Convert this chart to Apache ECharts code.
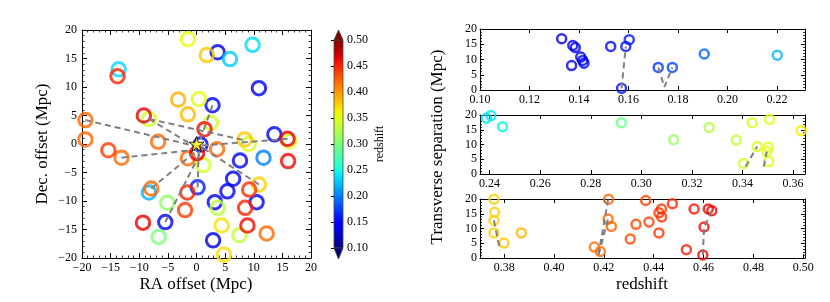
<!DOCTYPE html>
<html><head><meta charset="utf-8">
<script src="https://cdn.jsdelivr.net/npm/echarts@6/dist/echarts.min.js"></script>
<style>html,body{margin:0;padding:0;background:#fff}#c{width:830px;height:302px}</style>
</head><body><div id="c"></div>
<script>
// ---------------- data ----------------
// left panel: galaxy offsets (Mpc) and redshifts
const skyRA  = [-1.5,-13.6,-13.8,3.7,1.8,5.85,9.8,10.9,-3.2,0.4,2.8,-1.5,-9.2,-8.3,2.5,1.4,-19.4,-19.4,-6.7,13.6,15.9,16.2,8.4,9.1,0.7,3.6,-15.4,-13.1,-1.5,0.1,1.2,7.6,11.7,16.0,6.4,0.2,-8.3,-7.9,10.9,9.2,5.4,-1.6,3.2,3.7,10.5,8.5,-5.1,-2.0,-9.35,-5.45,4.4,8.9,7.5,12.25,2.9,4.8,-6.6];
const skyDec = [18.4,13.1,11.9,16.1,15.6,14.9,17.4,9.8,7.8,7.9,6.8,5.2,5.0,4.4,3.7,2.6,4.2,0.8,0.4,1.7,0.9,0.5,0.8,0.0,-0.1,-0.9,-1.1,-2.4,-2.5,-1.6,-3.7,-2.9,-2.4,-3.0,-6.1,-7.6,-8.5,-7.8,-7.1,-8.0,-8.3,-8.5,-10.2,-11.2,-10.2,-11.2,-10.3,-11.6,-13.8,-13.7,-14.3,-14.3,-16.0,-15.7,-16.9,-19.4,-16.3];
const skyZ   = [0.355,0.235,0.45,0.14,0.38,0.23,0.235,0.14,0.39,0.35,0.15,0.385,0.465,0.34,0.345,0.46,0.42,0.42,0.42,0.15,0.465,0.34,0.38,0.345,0.15,0.42,0.44,0.42,0.42,0.465,0.34,0.14,0.2,0.46,0.14,0.16,0.22,0.42,0.375,0.445,0.14,0.45,0.14,0.33,0.14,0.45,0.31,0.44,0.465,0.14,0.37,0.46,0.335,0.42,0.13,0.37,0.30];
const targetRA = [0];
const targetDec = [0];
// dashed links in the sky panel (polylines of [RA, Dec])
const skyLinks = [
  [[-19.4,4.2],[0,-0.4]],
  [[-8.3,4.4],[0.3,-0.8]],
  [[-8.3,4.4],[8.6,0.6]],
  [[-13.1,-2.4],[0,-1.0]],
  [[-7.9,-7.8],[0,-1.2]],
  [[-5.45,-13.7],[1.2,-0.5]],
  [[0.2,-7.6],[0.4,-0.5]],
  [[10.9,-7.1],[0.5,-0.3]],
  [[15.9,0.9],[0.5,-0.3]],
  [[2.8,6.8],[0.5,0.3]]
];
// right panels: redshift vs transverse separation (Mpc)
const p1Z   = [0.133,0.1375,0.1385,0.137,0.1407,0.1415,0.142,0.1528,0.1572,0.1589,0.1603,0.172,0.1777,0.1906,0.2201];
const p1Sep = [16.8,14.6,13.9,8.0,10.8,9.7,8.8,14.3,0.55,14.3,16.5,7.4,7.4,11.8,11.4];
const p2Z   = [0.2387,0.2405,0.2451,0.2921,0.3128,0.3268,0.3375,0.3438,0.3507,0.3458,0.3502,0.3496,0.3404,0.3503,0.3632];
const p2Sep = [18.9,19.8,16.0,17.4,11.6,15.8,11.5,17.4,18.5,9.3,9.1,7.6,3.6,4.2,14.7];
const p3Z   = [0.3759,0.3762,0.3759,0.3759,0.3799,0.3869,0.4162,0.4186,0.4219,0.4217,0.4230,0.4306,0.4329,0.4368,0.4381,0.4421,0.4421,0.4431,0.4432,0.4475,0.4531,0.4562,0.4602,0.4597,0.4619,0.4633];
const p3Sep = [19.9,15.5,12.7,8.5,5.1,8.5,3.7,2.2,19.9,13.2,10.7,6.4,11.4,19.5,12.2,8.5,15.3,16.6,13.9,18.4,2.8,16.6,10.5,1.0,16.6,16.0];
const p1Links = [[[0.1572,0.55],[0.1589,14.3]], [[0.172,7.4],[0.1745,1.0],[0.1777,7.4]]];
const p2Links = [[[0.3412,2.5],[0.3458,9.3]], [[0.3484,2.5],[0.3496,7.6]]];
const p3Links = [[[0.3759,12.7],[0.3783,2.6]], [[0.4217,19.8],[0.4177,0.5],[0.4217,13.2]], [[0.4597,1.0],[0.4602,10.5]], [[0.4633,16.0],[0.4602,10.5]]];
// axis ticks
const skyTicks = [-20,-15,-10,-5,0,5,10,15,20];
const sepTicks = [0,5,10,15,20];
const cbTicks  = [0.10,0.15,0.20,0.25,0.30,0.35,0.40,0.45,0.50];
const p1Ticks  = [0.10,0.12,0.14,0.16,0.18,0.20,0.22];
const p2Ticks  = [0.24,0.26,0.28,0.30,0.32,0.34,0.36];
const p3Ticks  = [0.38,0.40,0.42,0.44,0.46,0.48,0.50];
const panelRanges = [[0.10,0.2313],[0.2362,0.3647],[0.3703,0.5007]];

// ---------------- helpers ----------------
const FONT = 'Liberation Serif';
const R=[[0,0],[0.35,0],[0.66,1],[0.89,1],[1,0.5]];
const G=[[0,0],[0.125,0],[0.375,1],[0.64,1],[0.91,0],[1,0]];
const B=[[0,0.5],[0.11,1],[0.34,1],[0.65,0],[1,0]];
function interp(p,t){for(let i=0;i<p.length-1;i++){if(t<=p[i+1][0]){return p[i][1]+(p[i+1][1]-p[i][1])*(t-p[i][0])/(p[i+1][0]-p[i][0]);}}return p[p.length-1][1];}
const zMin = cbTicks[0], zMax = cbTicks[cbTicks.length-1];
function jetT(t){t=Math.max(0,Math.min(1,t));return 'rgb('+Math.round(255*interp(R,t))+','+Math.round(255*interp(G,t))+','+Math.round(255*interp(B,t))+')';}
function jet(z){return jetT((z-zMin)/(zMax-zMin));}
const minus = v => String(v).replace('-', '\u2212');
function onTick(ticks){return v => ticks.some(t=>Math.abs(t-v)<1e-6) ? v.toFixed(2) : '';}

function axis(type, gridIndex, position, min, max, o) {
  const a = {
    type:'value', gridIndex, position, min, max,
    axisLine:{show:true,onZero:false,lineStyle:{color:'#000',width:1}},
    axisTick:{show:true,inside:true,length:o.tickLen||5,lineStyle:{color:'#000',width:1}},
    minorTick:{show:!!o.minor,splitNumber:o.minor||5,length:o.minorLen||2.5,lineStyle:{color:'#000',width:0.8}},
    splitLine:{show:false},
    axisLabel:{show:!!o.labels,color:'#000',fontFamily:FONT,fontSize:12,margin:o.margin||5,formatter:o.formatter},
    animation:false
  };
  if (o.interval) a.interval = o.interval;
  if (o.splitNumber) a.splitNumber = o.splitNumber;
  return a;
}

// ---------------- grids & axes ----------------
const grids = [
  {left:82, top:30, width:229, height:228},
  {left:334, top:40, width:9, height:208},
  {left:480, top:29, width:325, height:61},
  {left:480, top:115, width:325, height:59},
  {left:480, top:199, width:325, height:59}
];
const sMin = skyTicks[0], sMax = skyTicks[skyTicks.length-1], sInt = skyTicks[1]-skyTicks[0];
const xAxes = [
  axis('value',0,'bottom',sMin,sMax,{interval:sInt,minor:5,labels:true,formatter:minus,margin:4}),
  axis('value',0,'top',sMin,sMax,{interval:sInt,minor:5}),
  {type:'value',gridIndex:1,min:0,max:1,show:false}
];
const yAxes = [
  axis('value',0,'left',sMin,sMax,{interval:sInt,minor:5,labels:true,formatter:minus,margin:5}),
  axis('value',0,'right',sMin,sMax,{interval:sInt,minor:5}),
  Object.assign(axis('value',1,'right',zMin,zMax,{interval:cbTicks[1]-cbTicks[0],labels:true,tickLen:3,margin:4,formatter:v=>v.toFixed(2)}),{axisLine:{show:false}})
];
const pTicks = [p1Ticks,p2Ticks,p3Ticks];
const sepMin = sepTicks[0], sepMax = sepTicks[sepTicks.length-1], sepInt = sepTicks[1]-sepTicks[0];
for (let i=0;i<3;i++){
  const g = 2+i, r = panelRanges[i];
  xAxes.push(axis('value',g,'bottom',r[0],r[1],{splitNumber:6,labels:true,margin:4,formatter:onTick(pTicks[i]),tickLen:4}));
  xAxes.push(axis('value',g,'top',r[0],r[1],{splitNumber:6,tickLen:4}));
  yAxes.push(axis('value',g,'left',sepMin,sepMax,{interval:sepInt,minor:5,labels:true,margin:3,tickLen:4,minorLen:2}));
  yAxes.push(axis('value',g,'right',sepMin,sepMax,{interval:sepInt,minor:5,tickLen:4,minorLen:2}));
}

// ---------------- series ----------------
const series = [];
const order = skyZ.map((z,i)=>i).sort((a,b)=>skyZ[a]-skyZ[b]);
series.push({
  type:'scatter', xAxisIndex:0, yAxisIndex:0, symbol:'circle', symbolSize:13.5, z:2,
  itemStyle:{color:'rgba(0,0,0,0)', borderWidth:3},
  data: order.map(i=>({value:[skyRA[i],skyDec[i],skyZ[i]], itemStyle:{borderColor:jet(skyZ[i])}})),
  animation:false, silent:true
});
const dash = {color:'#808080', width:2, type:[6,4]};
skyLinks.forEach(l=>series.push({type:'line',xAxisIndex:0,yAxisIndex:0,data:l,symbol:'none',lineStyle:dash,z:3,animation:false,silent:true}));
series.push({
  type:'scatter', xAxisIndex:0, yAxisIndex:0, z:5,
  symbol:'path://M0,-1 L0.2245,-0.309 L0.951,-0.309 L0.363,0.118 L0.588,0.809 L0,0.382 L-0.588,0.809 L-0.363,0.118 L-0.951,-0.309 L-0.2245,-0.309 Z',
  symbolSize:15, itemStyle:{color:'#ffff00', borderColor:'#000', borderWidth:1},
  data: targetRA.map((x,i)=>[x,targetDec[i]]), animation:false, silent:true
});
// colorbar
const stops = [];
for (let k=0;k<=40;k++){ stops.push({offset:k/40, color:jetT(1-k/40)}); }
series.push({
  type:'custom', xAxisIndex:2, yAxisIndex:2, data:[[0,zMin,zMax]], silent:true, animation:false,
  renderItem:(params, api)=>{
    const a = api.coord([0, api.value(2)]), b = api.coord([1, api.value(1)]);
    const w = b[0]-a[0], cx = (a[0]+b[0])/2;
    return {type:'group', children:[
      {type:'rect', shape:{x:a[0],y:a[1],width:w,height:b[1]-a[1]}, style:{fill:{type:'linear',x:0,y:0,x2:0,y2:1,colorStops:stops}, stroke:'#444', lineWidth:0.8}},
      {type:'polygon', shape:{points:[[a[0],a[1]],[b[0],a[1]],[cx,a[1]-10]]}, style:{fill:jetT(1.05), stroke:'#444', lineWidth:0.8}},
      {type:'polygon', shape:{points:[[a[0],b[1]],[b[0],b[1]],[cx,b[1]+11]]}, style:{fill:jetT(-0.05), stroke:'#444', lineWidth:0.8}}
    ]};
  }
});
// right panels
const pZ=[p1Z,p2Z,p3Z], pS=[p1Sep,p2Sep,p3Sep], pL=[p1Links,p2Links,p3Links];
for (let i=0;i<3;i++){
  const ax = 3+2*i;
  series.push({
    type:'scatter', xAxisIndex:ax, yAxisIndex:ax, symbol:'circle', symbolSize:9, z:2,
    itemStyle:{color:'rgba(0,0,0,0)', borderWidth:2.5},
    data: pZ[i].map((z,k)=>({value:[z,pS[i][k]], itemStyle:{borderColor:jet(z)}})),
    animation:false, silent:true
  });
  pL[i].forEach(l=>series.push({type:'line',xAxisIndex:ax,yAxisIndex:ax,data:l,symbol:'none',lineStyle:dash,z:3,animation:false,silent:true}));
}

const titleFont = '17px "Liberation Serif"';
const graphic = [
  {type:'text', x:196, y:285, style:{text:'RA offset (Mpc)', font:titleFont, fill:'#000', textAlign:'center', textVerticalAlign:'middle'}},
  {type:'text', x:43, y:144, rotation:Math.PI/2, style:{text:'Dec. offset (Mpc)', font:titleFont, fill:'#000', textAlign:'center', textVerticalAlign:'middle'}},
  {type:'text', x:380, y:144, rotation:Math.PI/2, style:{text:'redshift', font:'12px "Liberation Serif"', fill:'#000', textAlign:'center', textVerticalAlign:'middle'}},
  {type:'text', x:438, y:147, rotation:Math.PI/2, style:{text:'Transverse separation (Mpc)', font:titleFont, fill:'#000', textAlign:'center', textVerticalAlign:'middle'}},
  {type:'text', x:642, y:285, style:{text:'redshift', font:titleFont, fill:'#000', textAlign:'center', textVerticalAlign:'middle'}}
];

const chart = echarts.init(document.getElementById('c'), null, {renderer:'canvas', width:830, height:302});
chart.setOption({
  backgroundColor:'#fff', animation:false,
  grid: grids, xAxis: xAxes, yAxis: yAxes, series: series, graphic: graphic
});
</script>
</body></html>
